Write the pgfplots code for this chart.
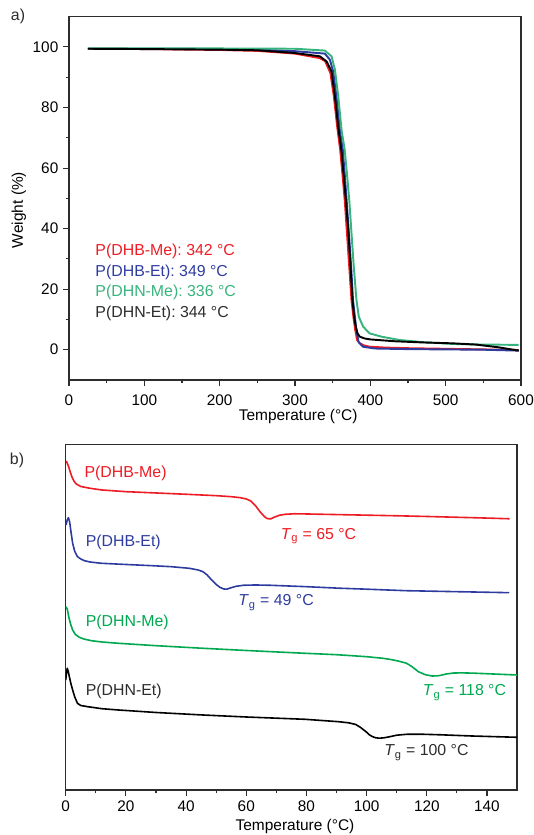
\documentclass[border=0pt]{standalone}
\usepackage{fontspec}
\setmainfont{Liberation Sans}
\usepackage{pgfplots}
\pgfplotsset{compat=1.18}
\frenchspacing

\definecolor{tred}{RGB}{237,28,36}
\definecolor{tblue}{RGB}{46,60,160}
\definecolor{tgreen}{RGB}{55,180,125}
\definecolor{dgreen}{RGB}{0,168,80}
\definecolor{axgray}{RGB}{45,45,45}
\definecolor{txgray}{RGB}{45,45,45}

\pgfplotsset{
  panel/.style={
    scale only axis,
    axis line style={axgray, line width=0.9pt},
    tick style={axgray, line width=0.8pt},
    tick align=outside,
    tick pos=left,
    major tick length=4.5pt,
    minor tick length=2.6pt,
    /pgf/number format/assume math mode=true,
    tick label style={font=\fontsize{11.5}{13}\selectfont},
    label style={font=\fontsize{11.6}{14}\selectfont},
    every axis plot/.append style={line join=round},
  },
}
\newcommand{\lbl}{\fontsize{11.9}{14}\selectfont}

\begin{document}
\begin{tikzpicture}
\path[use as bounding box] (0,0) rectangle (399.75pt,626.25pt);

% panel a: TGA
\begin{axis}[
    panel,
    at={(51.75pt,341.25pt)}, anchor=south west,
    width=339pt, height=272.5pt,
    xmin=0, xmax=600, ymin=-10, ymax=110,
    xtick={0,100,...,600}, minor x tick num=1,
    ytick={0,20,...,100}, minor y tick num=1,
    xticklabel shift=3pt,
    xlabel={Temperature (°C)},
    ylabel={Weight (\%)},
    xlabel style={at={(axis description cs:0.507,-0.101)}, anchor=center},
    ylabel style={at={(axis description cs:-0.111,0.468)}, anchor=center},
]
\addplot[tred, line width=1.45pt] coordinates {
 (25,99.4) (100,99.3) (200,99.0) (250,98.7) (300,97.8) (320,96.9) (333,96.3)
 (340,95.3) (347,91.4) (351.6,83.7) (356,73.7) (360,66) (363,58) (366,49.5)
 (369,38.5) (372,27.5) (375,16.4) (377.5,10.9) (380,6.5) (382.5,3.2) (386,2.1)
 (392,1.4) (399,1.0) (420,0.7) (450,0.5) (500,0.3) (550,0.1) (597,-0.1)
};
\addplot[tblue, line width=1.45pt] coordinates {
 (25,99.4) (100,99.4) (200,99.3) (250,99.1) (300,98.6) (339.6,97.8) (346.3,95.8)
 (350.7,91.9) (355,83.7) (359.5,72.6) (363.5,66) (366,58) (368.5,49.5)
 (371.5,38.5) (374.5,27.5) (377,16.4) (379.5,10.9) (381.5,6.5) (384.3,2.6)
 (390,1.0) (406,0.4) (450,0.2) (500,0.1) (550,0) (597,-0.3)
};
\addplot[tgreen, line width=1.45pt] coordinates {
 (25,99.5) (100,99.5) (200,99.5) (300,99.4) (339.6,98.8) (348.5,96.9) (353,92.5)
 (357.4,83.7) (361.8,72.6) (366,66) (369,58) (372,49.5) (375,38.5) (378,27.5)
 (381.6,16.4) (384.7,10.9) (390.5,7.6) (399,5.4) (415,4.3) (439,3.2) (470,2.5)
 (510,1.9) (550,1.7) (597,1.6)
};
\addplot[black, line width=1.45pt] coordinates {
 (25,99.4) (100,99.3) (200,99.1) (250,98.9) (300,98.0) (333,96.9) (342,95.2)
 (348.5,91.9) (353,83.7) (357.3,73.7) (361.5,66) (364.5,58) (367.5,49.5)
 (371,38.5) (373.7,27.5) (376.3,16.4) (378.5,10.9) (380.7,7.6) (383,5.4)
 (386,4.3) (392.7,3.7) (400,3.4) (432,2.8) (470,2.4) (510,2.1) (540,1.7)
 (570,0.8) (597,-0.3)
};
\node[anchor=base west, font=\lbl, text=tred]   at (axis cs:28.9,31.0) {P(DHB-Me): 342 °C};
\node[anchor=base west, font=\lbl, text=tblue]  at (axis cs:28.9,24.1) {P(DHB-Et): 349 °C};
\node[anchor=base west, font=\lbl, text=tgreen] at (axis cs:28.9,17.5) {P(DHN-Me): 336 °C};
\node[anchor=base west, font=\lbl, text=txgray] at (axis cs:28.9,10.6) {P(DHN-Et): 344 °C};
\end{axis}

% panel b: DSC
\begin{axis}[
    panel,
    at={(49.3pt,33.75pt)}, anchor=south west,
    width=338.5pt, height=259.3pt,
    xmin=0, xmax=150, ymin=45, ymax=390.7,
    xtick={0,20,...,140}, minor x tick num=1,
    ytick=\empty,
    xlabel={Temperature (°C)},
    xlabel style={at={(axis description cs:0.508,-0.106)}, anchor=center},
]
\addplot[tred, line width=1.2pt] coordinates {
 (0.2,374) (0.6,371) (1,368) (1.5,363) (2,358.5) (2.7,354) (3.5,351) (5,348.5)
 (8,346.7) (12,345) (20,343.3) (30,342) (40,340.7) (50,339.3) (55,338.3)
 (58,337.3) (60,336) (61.5,334) (63,329.5) (64.5,323.5) (66,318.5) (67,316.3)
 (68.2,316.2) (69.5,318) (71,319.7) (73,320.7) (76,321.2) (80,321) (90,320.4)
 (100,319.8) (110,319.2) (120,318.5) (130,317.7) (140,316.9) (147.5,316.2)
};
\addplot[tblue, line width=1.2pt] coordinates {
 (0.1,310) (0.5,315) (0.9,317.3) (1.3,313) (1.8,302) (2.3,291.7) (3,283.5)
 (3.9,278.3) (5,276) (6.2,274.3) (8,273) (11.8,271.7) (20,270.5) (28.7,269.3)
 (35,268.3) (41,266.7) (44,265) (45.6,263.3) (47,260) (48.5,255) (50,250.5)
 (51.3,247.6) (52.5,246) (53.5,245.8) (55,247.3) (56.5,248.6) (59,249.7)
 (63,250) (68,249.7) (80,248.3) (90.7,246.8) (100,245.8) (113,244.3)
 (130,243.3) (147.4,242.3)
};
\addplot[dgreen, line width=1.2pt] coordinates {
 (0.1,228.3) (0.5,226) (1,218.3) (1.6,211) (2.3,205) (3.2,200.5) (4.5,197.7)
 (6,196) (8.5,194.3) (12,193) (17.5,191.7) (30,189.3) (45.6,186.7) (60,184.5)
 (79.5,181.7) (90,180.3) (100,178.3) (105.4,176.7) (108,175.5) (110,174.3)
 (112,172.8) (113.3,171.7) (115,168.5) (117.2,163.3) (119.5,160.3) (121.7,159)
 (123.5,159.1) (124.6,159.7) (126.5,161) (129,162) (132,162.1) (135.8,161.8)
 (142,161) (150,160)
};
\addplot[black, line width=1.2pt] coordinates {
 (0,155) (0.25,162) (0.5,166.7) (0.8,164) (1.2,158.3) (1.7,151.5) (2.3,145)
 (3,138) (3.9,131.7) (5,129.5) (7.3,128.3) (12,126.3) (17.5,125) (30,122.5)
 (45.6,120) (60,118) (79.5,115.7) (90.7,113.3) (94,112.2) (96.4,110.5)
 (98,107.5) (99.8,103.3) (101,100) (102,98.3) (103,97.2) (104.3,96.8)
 (105.8,97.2) (107.7,98.3) (110,99.8) (113.3,100.7) (118,100.8) (124.6,100.2)
 (135,99) (150,97.7)
};
\node[anchor=base west, font=\lbl, text=tred]   at (axis cs:4.7,357.3) {P(DHB-Me)};
\node[anchor=base west, font=\lbl, text=tblue]  at (axis cs:5.1,288.3) {P(DHB-Et)};
\node[anchor=base west, font=\lbl, text=dgreen] at (axis cs:5.1,208.3) {P(DHN-Me)};
\node[anchor=base west, font=\lbl, text=txgray] at (axis cs:5.1,139.0) {P(DHN-Et)};
\node[anchor=base west, font=\lbl, text=tred]   at (axis cs:69.9,295.7) {\textit{T}\textsubscript{g} = 65 °C};
\node[anchor=base west, font=\lbl, text=tblue]  at (axis cs:55.8,229.0) {\textit{T}\textsubscript{g} = 49 °C};
\node[anchor=base east, font=\lbl, text=dgreen] at (axis cs:147.9,139.3) {\textit{T}\textsubscript{g} = 118 °C};
\node[anchor=base west, font=\lbl, text=txgray] at (axis cs:104.3,79.3) {\textit{T}\textsubscript{g} = 100 °C};
\end{axis}

\node[font=\lbl, text=txgray] at (13.5pt,613.9pt) {a)};
\node[font=\lbl, text=txgray] at (12.75pt,281.25pt) {b)};
\end{tikzpicture}
\end{document}
